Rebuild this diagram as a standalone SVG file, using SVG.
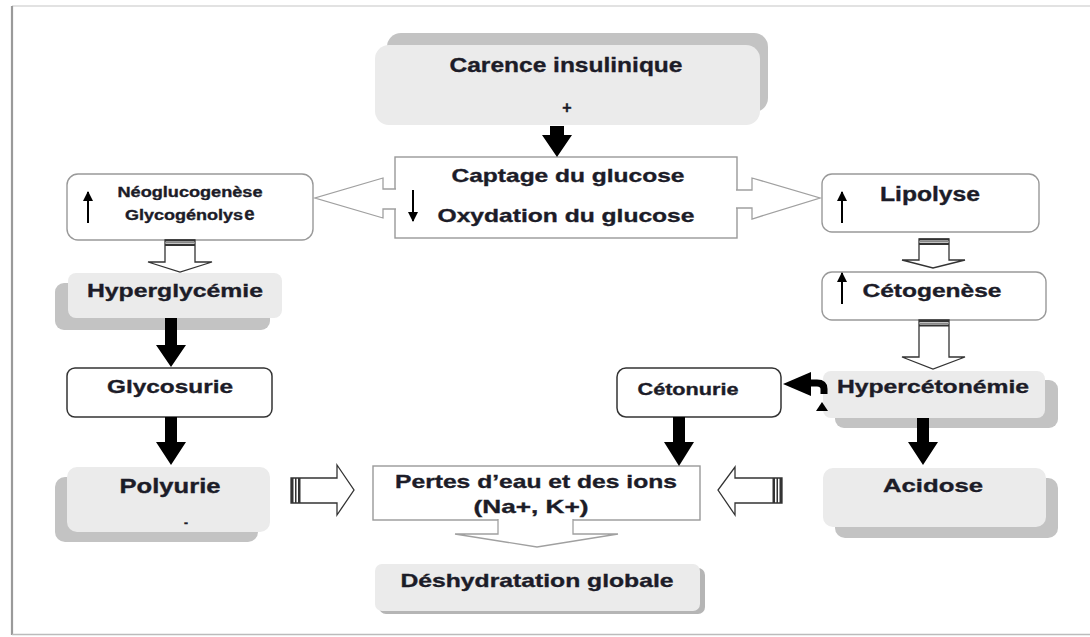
<svg xmlns="http://www.w3.org/2000/svg" width="1090" height="637" viewBox="0 0 1090 637">
<style>
.t{font-family:"Liberation Sans",Arial,sans-serif;font-weight:bold;fill:#1c1c28;stroke:#1c1c28;stroke-width:0.35;text-anchor:middle}
.lb{fill:#ebebeb}
.sh{fill:#c3c3c3}
.ob{fill:#fff;stroke:#999;stroke-width:1.4}
.db{fill:#fff;stroke:#333;stroke-width:1.5}
.ha{fill:#fff;stroke:#333;stroke-width:1.3;stroke-linejoin:miter}
.co{fill:#fff;stroke:#a0a0a0;stroke-width:1.3}
.ba{fill:#000}
.thin{stroke:#000;stroke-width:2}
.st{fill:#333}
</style>
<defs>
<marker id="ah" viewBox="0 0 10 10" refX="9" refY="5" markerWidth="5" markerHeight="5" orient="auto">
<path d="M0,0 L10,5 L0,10 Z" fill="#000"/>
</marker>
</defs>
<rect x="0" y="0" width="1090" height="637" fill="#fff"/>
<g id="frame">
<line x1="12" y1="6" x2="1090" y2="6" stroke="#d8d8d8" stroke-width="1.5"/>
<line x1="12" y1="6" x2="12" y2="635" stroke="#9a9a9a" stroke-width="2.2"/>
<line x1="12" y1="634.5" x2="1090" y2="634.5" stroke="#bbb" stroke-width="1.5"/>
</g>

<g id="carence">
<rect class="sh" x="387" y="33" width="381" height="79" rx="14"/>
<rect class="lb" x="375" y="45" width="385" height="80" rx="14"/>
<text class="t" x="566" y="72" font-size="21" textLength="233" lengthAdjust="spacingAndGlyphs">Carence insulinique</text>
<text class="t" x="567" y="113" font-size="16">+</text>
</g>

<g id="captage">
<rect class="ob" x="395" y="157" width="342" height="81"/>
<text class="t" x="568" y="182" font-size="19" textLength="233" lengthAdjust="spacingAndGlyphs">Captage du glucose</text>
<text class="t" x="566" y="222" font-size="19" textLength="257" lengthAdjust="spacingAndGlyphs">Oxydation du glucose</text>
<line class="thin" x1="413" y1="190" x2="413" y2="221" marker-end="url(#ah)"/>
</g>

<g id="neoglucogenese">
<rect class="ob" x="67" y="174" width="246" height="66" rx="11"/>
<text class="t" x="190" y="197" font-size="14.5" textLength="145" lengthAdjust="spacingAndGlyphs">Néoglucogenèse</text>
<text class="t" x="184" y="220" font-size="14.5" textLength="118" lengthAdjust="spacingAndGlyphs">Glycogénolys</text>
<text class="t" x="249.5" y="220" font-size="18.5">e</text>
<line class="thin" x1="88" y1="223" x2="88" y2="192" marker-end="url(#ah)"/>
</g>

<g id="lipolyse">
<rect class="ob" x="822" y="174" width="217" height="58" rx="10"/>
<text class="t" x="930" y="201" font-size="19.5" textLength="100" lengthAdjust="spacingAndGlyphs">Lipolyse</text>
<line class="thin" x1="842" y1="223" x2="842" y2="192" marker-end="url(#ah)"/>
</g>

<g id="cetogenese">
<rect class="ob" x="822" y="272" width="224" height="48" rx="10"/>
<text class="t" x="932" y="297" font-size="19" textLength="139" lengthAdjust="spacingAndGlyphs">Cétogenèse</text>
<line class="thin" x1="842" y1="304" x2="842" y2="273" marker-end="url(#ah)"/>
</g>

<g id="hyperglycemie">
<rect class="sh" x="55" y="283" width="215" height="47" rx="9"/>
<rect class="lb" x="68" y="273" width="214" height="45" rx="8"/>
<text class="t" x="175" y="297" font-size="19" textLength="176" lengthAdjust="spacingAndGlyphs">Hyperglycémie</text>
</g>

<g id="glycosurie">
<rect class="db" x="67" y="368" width="205" height="49" rx="8"/>
<text class="t" x="170" y="393" font-size="19" textLength="126" lengthAdjust="spacingAndGlyphs">Glycosurie</text>
</g>

<g id="polyurie">
<rect class="sh" x="55" y="477" width="203" height="65" rx="10"/>
<rect class="lb" x="67" y="467" width="203" height="65" rx="10"/>
<text class="t" x="170" y="493" font-size="19.5" textLength="101" lengthAdjust="spacingAndGlyphs">Polyurie</text>
<text class="t" x="186" y="527" font-size="12">-</text>
</g>

<g id="hypercetonemie">
<rect class="sh" x="835" y="380" width="223" height="48" rx="9"/>
<rect class="lb" x="823" y="371" width="222" height="47" rx="8"/>
<text class="t" x="933" y="393" font-size="19" textLength="192" lengthAdjust="spacingAndGlyphs">Hypercétonémie</text>
</g>

<g id="cetonurie">
<rect class="db" x="617" y="368" width="164" height="49" rx="9"/>
<text class="t" x="688" y="395" font-size="16.5" textLength="101" lengthAdjust="spacingAndGlyphs">Cétonurie</text>
</g>

<g id="acidose">
<rect class="sh" x="835" y="478" width="223" height="60" rx="10"/>
<rect class="lb" x="823" y="468" width="223" height="59" rx="10"/>
<text class="t" x="933" y="492" font-size="19" textLength="100" lengthAdjust="spacingAndGlyphs">Acidose</text>
</g>

<g id="pertes">
<rect class="ob" x="373" y="466" width="327" height="54"/>
<text class="t" x="536" y="488" font-size="19" textLength="282" lengthAdjust="spacingAndGlyphs">Pertes d’eau et des ions</text>
<text class="t" x="531" y="513" font-size="19" textLength="115" lengthAdjust="spacingAndGlyphs">(Na+, K+)</text>
</g>

<g id="deshydratation">
<rect fill="#b5b5b5" x="379" y="568" width="326" height="46" rx="7"/>
<rect class="lb" x="375" y="564" width="325" height="47" rx="7"/>
<text class="t" x="537" y="587" font-size="19" textLength="273" lengthAdjust="spacingAndGlyphs">Déshydratation globale</text>
</g>

<g id="connectors">
<path class="ba" d="M550,126 H564 V135 H572 L557,157 L542,135 H550 Z"/>
<path class="ba" d="M165,318 H177 V345 H186 L171,367 L156,345 H165 Z"/>
<path class="ba" d="M165,417 H177 V442 H186 L171,465 L156,442 H165 Z"/>
<path class="ba" d="M673,417 H685 V442 H694 L679,466 L664,442 H673 Z"/>
<path class="ba" d="M917,418 H929 V442 H938 L923,465 L908,442 H917 Z"/>
<path class="ba" d="M783,384 L811,372 L811,396 Z"/>
<path d="M808,383 H817 Q824,383 824,389 V394" fill="none" stroke="#000" stroke-width="7"/>
<path class="ba" d="M816,411 L828,411 L822,402 Z"/>
<path class="co" d="M396,189 H383 V178 L315,198 L383,218 V209 H396"/>
<path class="co" d="M736,190 H752 V178 L820,198 L752,219 V208 H736"/>
<path class="co" d="M498,519 V534 H455 L537,547 L618,534 H573 V519"/>
<path class="ha" d="M165,240 H195 V262 H212 L180,272 L148,262 H165 Z"/>
<rect class="st" x="165" y="239.5" width="30" height="2"/>
<rect fill="#888" x="165" y="242" width="30" height="1.5"/>
<rect class="st" x="165" y="244" width="30" height="2"/>
<path class="ha" d="M919,239 H949 V260 H965 L933,268 L902,260 H919 Z"/>
<rect class="st" x="919" y="238.5" width="30" height="2"/>
<rect fill="#888" x="919" y="241" width="30" height="1.5"/>
<rect class="st" x="919" y="243" width="30" height="2"/>
<path class="ha" d="M919,320 H949 V357 H965 L933,369 L902,357 H919 Z"/>
<rect class="st" x="919" y="320" width="30" height="2"/>
<rect fill="#888" x="919" y="322.5" width="30" height="1.5"/>
<rect class="st" x="919" y="324.5" width="30" height="2"/>
<path class="ha" d="M291,478 H337 V465 L354,490 L337,515 V503 H291 Z"/>
<rect class="st" x="291" y="478" width="2.5" height="25"/>
<rect class="st" x="295" y="478" width="1.5" height="25"/>
<rect class="st" x="298" y="478" width="2.5" height="25"/>
<path class="ha" d="M782,478 H735 V467 L718,490 L735,515 V503 H782 Z"/>
<rect class="st" x="779.5" y="478" width="2.5" height="25"/>
<rect class="st" x="776.5" y="478" width="1.5" height="25"/>
<rect class="st" x="772.5" y="478" width="2.5" height="25"/>
</g>
</svg>
